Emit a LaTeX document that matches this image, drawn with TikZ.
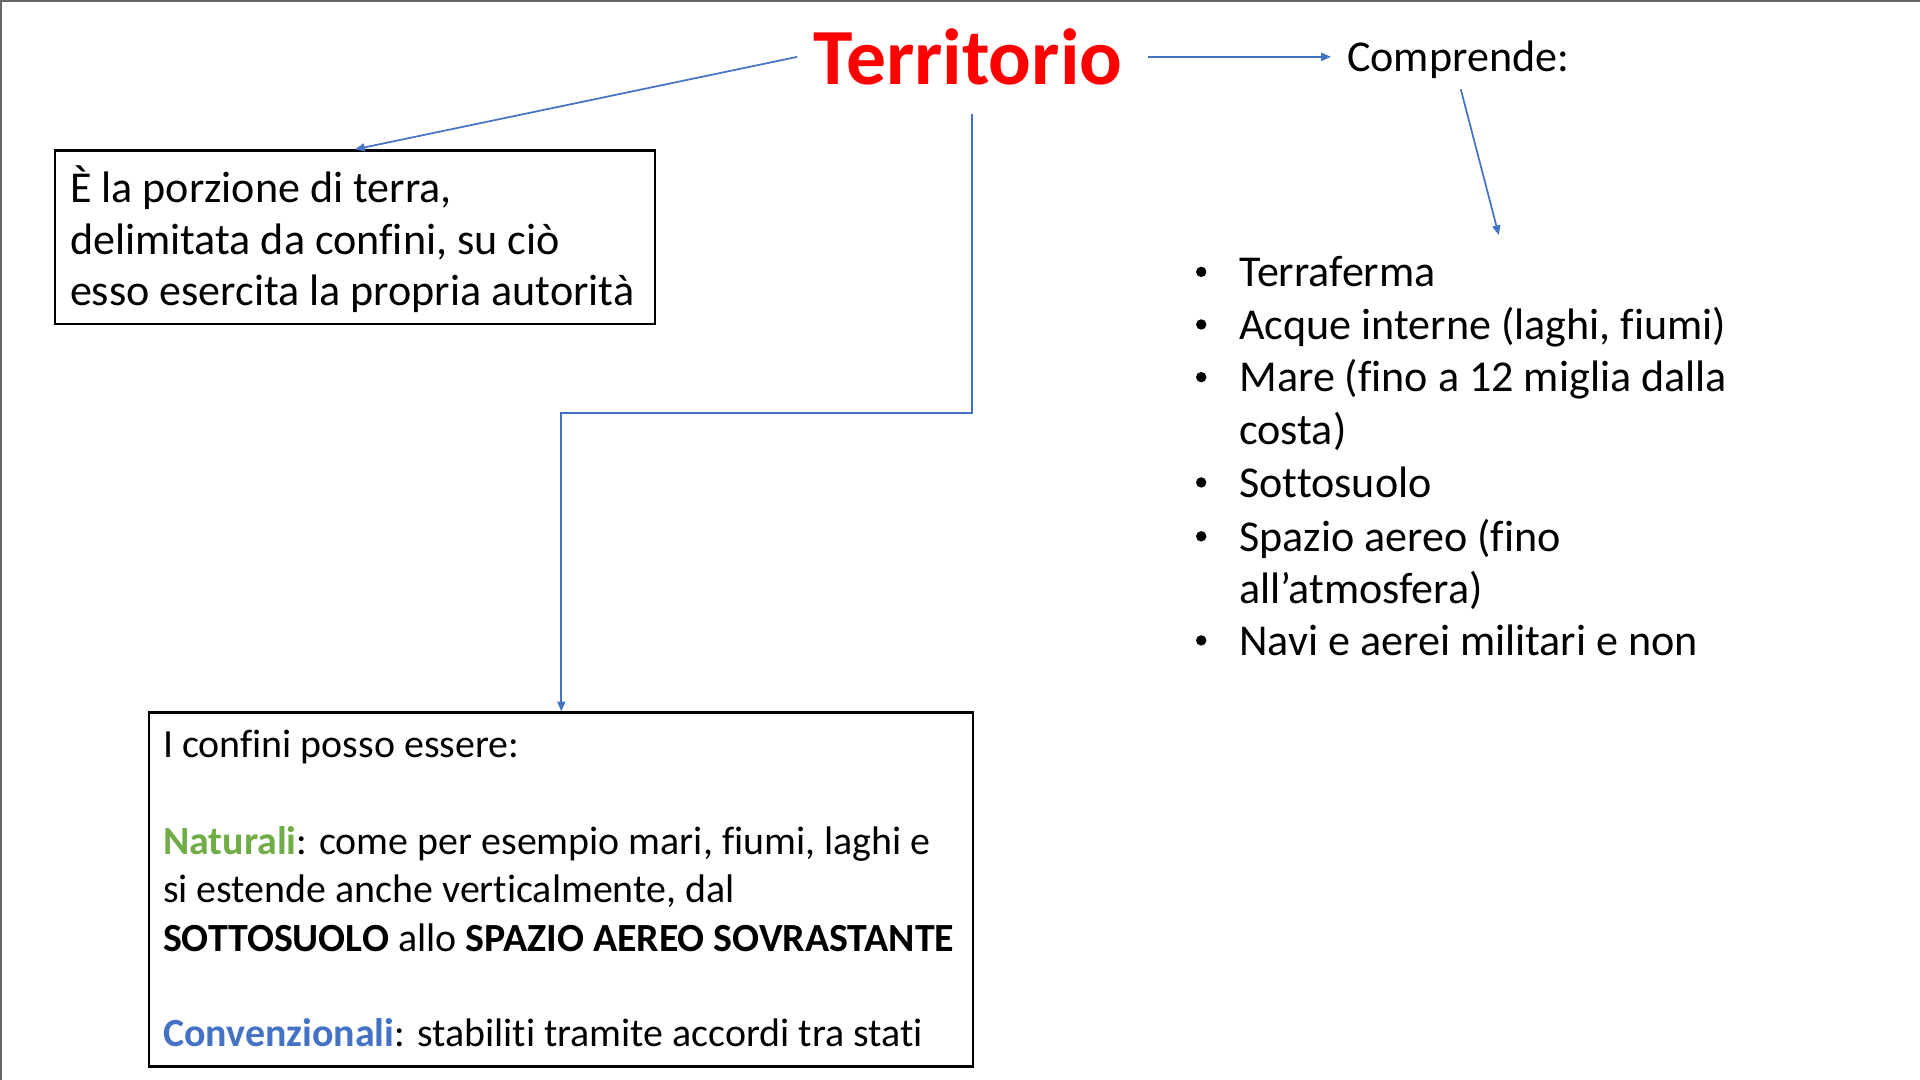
\documentclass[tikz,border=0pt]{standalone}
\usepackage{fontspec}
\setmainfont{Carlito}[Ligatures=CommonOff]
\usetikzlibrary{arrows.meta}
\definecolor{conblue}{HTML}{4472C4}
\definecolor{titred}{HTML}{FF0000}
\definecolor{natgreen}{HTML}{70AD47}
\begin{document}
\begin{tikzpicture}[x=1pt,y=-1pt,
  conn/.style={draw=conblue, line width=1.4pt},
  tip/.style={-{Triangle[length=8pt,width=6.5pt]}},
  boxstyle/.style={draw=black, line width=1.8pt, inner sep=0pt, anchor=north west},
  body/.style={font=\fontsize{36}{43}\selectfont, anchor=base west, inner sep=0pt},
  small/.style={font=\fontsize{32.6}{39}\selectfont, anchor=base west, inner sep=0pt},
  bulletdot/.style={circle, fill=black, inner sep=0pt, minimum size=8.5pt}]
\useasboundingbox (0,0) rectangle (1568,882);
\fill[white] (0,0) rectangle (1568,882);
\draw[black!60, line width=1.5pt] (0.75,882) -- (0.75,0.75) -- (1568,0.75);

% title
\node[font=\fontsize{65}{72}\selectfont\bfseries, text=titred, inner xsep=13pt, inner ysep=0pt, anchor=base] (territorio) at (790.5,69) {Territorio};
\node[body, inner xsep=13pt] (comprende) at (1087,58) {Comprende:};

% definition box
\node[boxstyle, minimum width=490pt, minimum height=142pt] (defbox) at (44,122) {};
\node[body] (def1) at (57,165.5) {È la porzione di terra,};
\node[body] (def2) at (57,207.5) {delimitata da confini, su ciò};
\node[body] (def3) at (57,249.5) {esso esercita la propria autorità};

% list
\node[bulletdot] (b1) at (981,222) {};
\node[body] (l1) at (1012,234) {Terraferma};
\node[bulletdot] (b2) at (981,265) {};
\node[body] (l2) at (1012,277) {Acque interne (laghi, fiumi)};
\node[bulletdot] (b3) at (981,308) {};
\node[body] (l3) at (1012,320) {Mare (fino a 12 miglia dalla};
\node[body] (l3b) at (1012,363) {costa)};
\node[bulletdot] (b4) at (981,394) {};
\node[body] (l4) at (1012,406) {Sottosuolo};
\node[bulletdot] (b5) at (981,438) {};
\node[body] (l5) at (1012,450) {Spazio aereo (fino};
\node[body] (l5b) at (1012,493) {all’atmosfera)};
\node[bulletdot] (b6) at (981,523) {};
\node[body] (l6) at (1012,535) {Navi e aerei militari e non};

% borders box
\node[boxstyle, minimum width=673pt, minimum height=289pt] (bordbox) at (121,581) {};
\node[small] (c1) at (133,619) {I confini posso essere:};
\node[small] (c2) at (133,698) {{\bfseries\color{natgreen}Naturali}: come per esempio mari, fiumi, laghi e};
\node[small] (c3) at (133,737) {si estende anche verticalmente, dal};
\node[small] (c4) at (133,777) {{\bfseries SOTTOSUOLO} allo {\bfseries SPAZIO AEREO SOVRASTANTE}};
\node[small] (c5) at (133,855) {{\bfseries\color{conblue}Convenzionali}: stabiliti tramite accordi tra stati};

% connectors
\coordinate (tstart) at (794,93);
\coordinate (elbow) at (794,337);
\coordinate (compdown) at (1193,73);
\coordinate (listtop) at (1224,192);
\draw[conn,tip] (territorio.west) -- (defbox.north);
\draw[conn,tip] ([xshift=8pt]territorio.east) -- (territorio.east -| comprende.west);
\draw[conn,tip] (compdown) -- (listtop);
\draw[conn,tip] (tstart) -- (elbow) -| (bordbox.north);
\end{tikzpicture}
\end{document}
